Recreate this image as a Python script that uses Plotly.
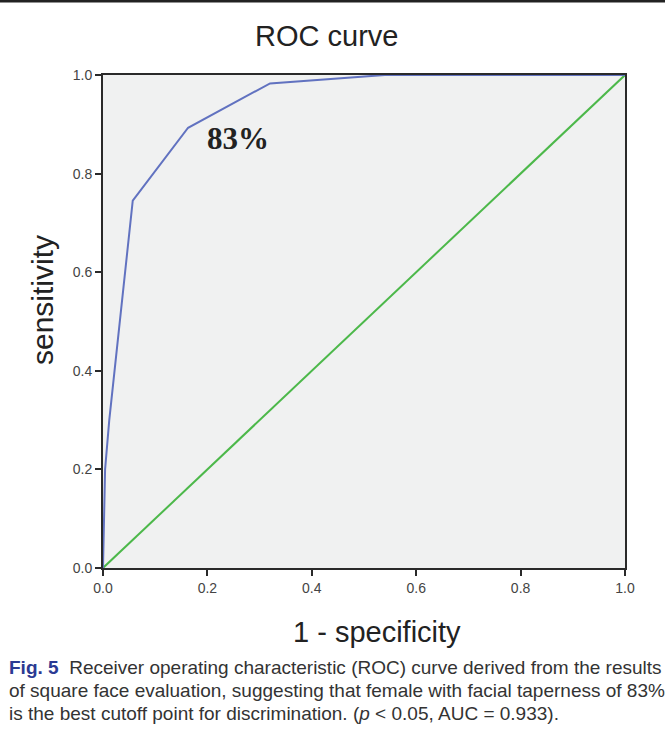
import plotly.graph_objects as go

# ROC curve values
fpr = [0.0, 0.004, 0.012, 0.057, 0.163, 0.320, 0.540, 1.0]
tpr = [0.0, 0.200, 0.300, 0.745, 0.893, 0.983, 1.000, 1.0]
ref_x = [0.0, 1.0]
ref_y = [0.0, 1.0]
tick_vals = [0.0, 0.2, 0.4, 0.6, 0.8, 1.0]
tick_text = ["0.0", "0.2", "0.4", "0.6", "0.8", "1.0"]

W, H = 665, 746
L, R, T, B = 103, 625, 75, 568

def px(x):
    return (x - L) / (R - L)

def py(y):
    return (B - y) / (B - T)

fig = go.Figure()
fig.add_trace(go.Scatter(x=ref_x, y=ref_y, mode="lines",
                         line=dict(color="#4cb84a", width=2), hoverinfo="skip"))
fig.add_trace(go.Scatter(x=fpr, y=tpr, mode="lines",
                         line=dict(color="#6172c0", width=2), hoverinfo="skip"))

axis_common = dict(range=[0, 1], tickvals=tick_vals, ticktext=tick_text,
                   showgrid=False, zeroline=False, showline=True, mirror=True,
                   linecolor="#2a2a2a", linewidth=2, ticks="outside", ticklen=6,
                   tickwidth=2, tickcolor="#2a2a2a",
                   tickfont=dict(family="Liberation Sans, Arial", size=14, color="#444444"))

fig.update_layout(
    width=W, height=H,
    margin=dict(l=L, r=W - R, t=T, b=H - B, pad=0),
    paper_bgcolor="white", plot_bgcolor="#f0f1f1",
    showlegend=False,
    xaxis=axis_common, yaxis=axis_common,
)

def label(text, x, y, size, family, xref="paper", yref="paper", angle=0):
    fig.add_annotation(text=text, x=x, y=y, xref=xref, yref=yref, showarrow=False,
                       xanchor="center", yanchor="middle", textangle=angle,
                       font=dict(size=size, family=family, color="#222222"))

label("ROC curve", px(326), py(36), 29, "Liberation Sans, Arial")
label("1 - specificity", px(377), py(632), 29, "Liberation Sans, Arial")
label("<b>83%</b>", 0.259, 0.872, 31, "Liberation Serif, Times New Roman", xref="x", yref="y")
label("sensitivity", px(42), py(300), 30, "Liberation Sans, Arial", angle=-90)

caption = [
    "<b><span style='color:#2b3a93'>Fig. 5</span></b>  Receiver operating characteristic (ROC) curve derived from the results",
    "of square face evaluation, suggesting that female with facial taperness of 83%",
    "is the best cutoff point for discrimination. (<i>p</i> &lt; 0.05, AUC = 0.933).",
]
cap_y = [667, 690, 713]
for line, yy in zip(caption, cap_y):
    fig.add_annotation(text=line, x=px(7), y=py(yy), xref="paper", yref="paper",
                       xanchor="left", yanchor="middle", showarrow=False, align="left",
                       font=dict(size=19, family="Liberation Sans, Arial", color="#333333"))

fig.add_shape(type="line", xref="paper", yref="paper", x0=px(0), x1=px(W), y0=py(1), y1=py(1),
              line=dict(color="#222222", width=3))

fig.write_html("out.html", config={"displayModeBar": False},
               post_script="document.body.style.margin='0px';document.body.style.overflow='hidden';")
